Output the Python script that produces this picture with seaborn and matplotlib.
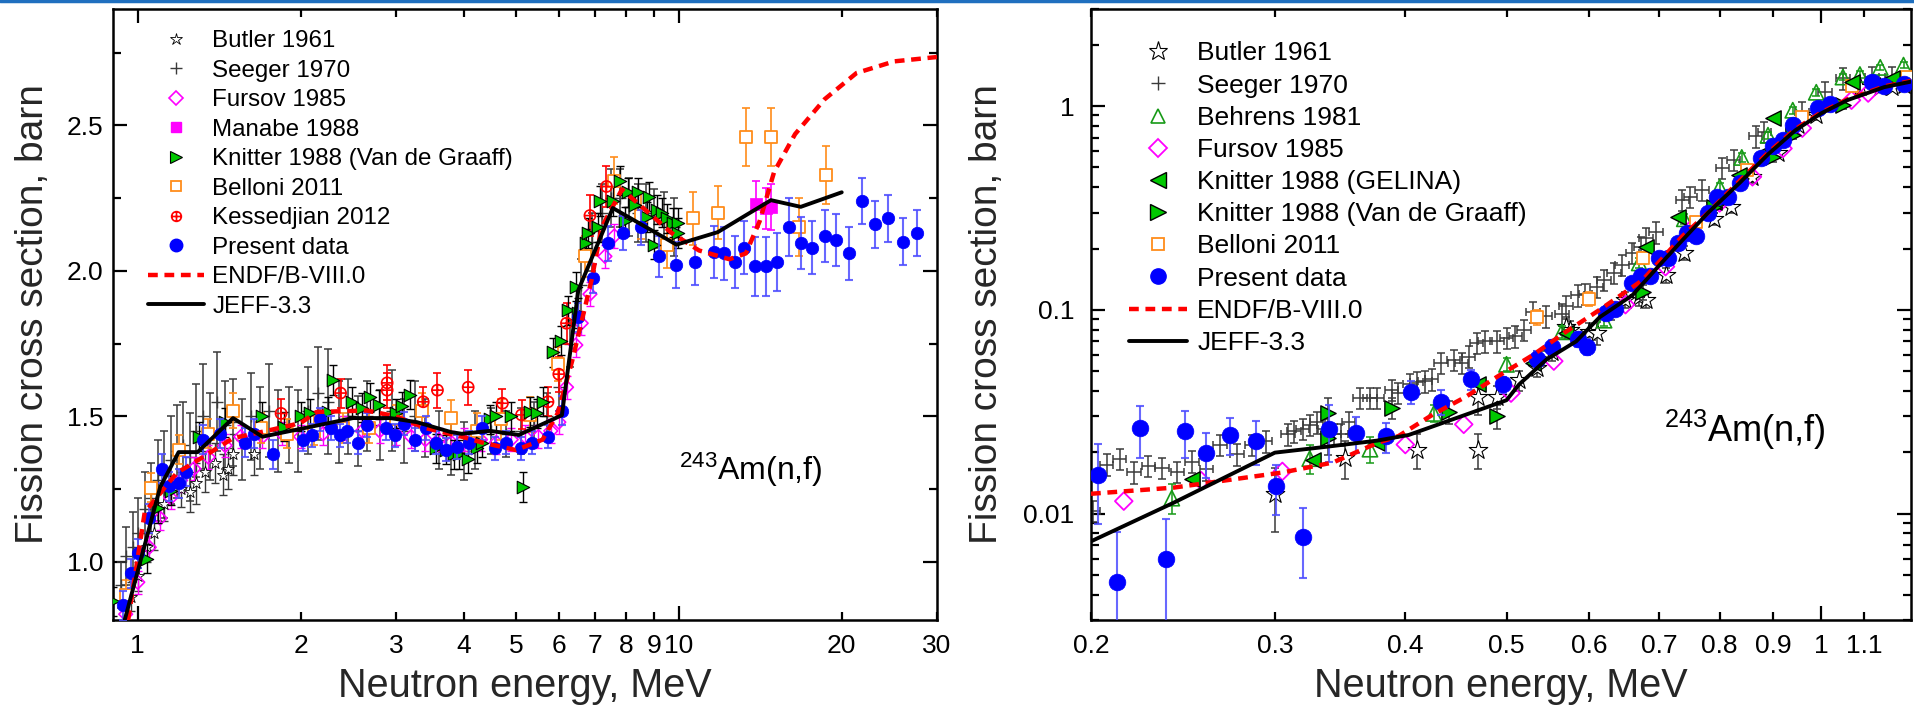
import numpy as np
import pandas as pd
import matplotlib
matplotlib.use("Agg")
import matplotlib.pyplot as plt
import seaborn as sns
from matplotlib.path import Path
from matplotlib.lines import Line2D
from matplotlib.ticker import FixedLocator, FixedFormatter, NullFormatter, LogLocator

# ---------------- LEFT PANEL DATA (0.9 - 30 MeV) ----------------
L_present_E = [0.94, 0.97, 1.00, 1.05, 1.11, 1.14, 1.19, 1.23, 1.32, 1.42, 1.58, 1.64, 1.78, 2.02, 2.10, 2.17,
               2.28, 2.36, 2.44, 2.55, 2.65, 2.87, 2.99, 3.11, 3.25, 3.41, 3.56, 3.72, 3.89, 4.10, 4.33, 4.57,
               4.80, 5.10, 5.36, 5.73, 6.08, 6.50, 6.95, 7.40, 7.90, 8.50, 9.20, 9.90, 10.7, 11.6, 12.1, 12.7,
               13.2, 13.8, 14.5, 15.2, 16.0, 16.8, 17.6, 18.6, 19.5, 20.6, 21.8, 23.0, 24.4, 26.0, 27.6]
L_present_v = [0.85, 0.96, 1.03, 1.15, 1.32, 1.26, 1.27, 1.31, 1.42, 1.44, 1.41, 1.44, 1.37, 1.42, 1.435, 1.49,
               1.46, 1.435, 1.45, 1.41, 1.47, 1.46, 1.435, 1.475, 1.42, 1.46, 1.41, 1.385, 1.395, 1.41, 1.46, 1.39,
               1.41, 1.39, 1.41, 1.43, 1.52, 1.84, 1.975, 2.095, 2.13, 2.15, 2.05, 2.02, 2.03, 2.065, 2.06, 2.03,
               2.08, 2.015, 2.015, 2.03, 2.15, 2.095, 2.08, 2.12, 2.105, 2.06, 2.24, 2.16, 2.18, 2.10, 2.13]
L_present_err = [0.05, 0.05, 0.05, 0.05, 0.05, 0.05, 0.05, 0.05, 0.05, 0.05, 0.05, 0.05, 0.05, 0.04, 0.04, 0.04,
                 0.04, 0.04, 0.04, 0.04, 0.04, 0.04, 0.04, 0.04, 0.04, 0.04, 0.04, 0.04, 0.04, 0.04, 0.04, 0.04,
                 0.04, 0.04, 0.04, 0.04, 0.05, 0.05, 0.05, 0.06, 0.06, 0.06, 0.07, 0.08, 0.08, 0.09, 0.09, 0.09,
                 0.09, 0.1, 0.1, 0.1, 0.1, 0.09, 0.09, 0.09, 0.09, 0.09, 0.08, 0.08, 0.08, 0.08, 0.08]

L_butler_E = [0.97, 1.00, 1.04, 1.07, 1.12, 1.20, 1.25, 1.28, 1.33, 1.39, 1.44, 1.47, 1.50, 1.64]
L_butler_v = [0.88, 0.95, 1.05, 1.10, 1.20, 1.25, 1.24, 1.27, 1.31, 1.34, 1.30, 1.32, 1.37, 1.37]
L_butler_err = [0.05, 0.05, 0.05, 0.06, 0.06, 0.06, 0.07, 0.07, 0.07, 0.07, 0.07, 0.07, 0.07, 0.07]

L_seeger_E = [0.93, 0.95, 0.98, 1.00, 1.03, 1.06, 1.09, 1.12, 1.15, 1.18, 1.21, 1.25, 1.28, 1.32, 1.36, 1.40,
              1.45, 1.50, 1.56, 1.62, 1.68, 1.75, 1.82, 1.90, 1.98, 2.06, 2.15, 2.25, 2.35, 2.45, 2.55, 2.65,
              2.80, 2.95, 3.10, 3.25, 3.40, 3.60, 3.80, 4.00, 4.20, 4.50, 4.80, 5.10, 5.40, 5.70, 6.00, 6.30,
              6.60, 6.90, 7.20, 7.50, 7.80, 8.10, 8.40, 8.70, 9.00, 9.40, 9.80]
L_seeger_v = [0.92, 1.02, 1.05, 1.10, 1.18, 1.22, 1.28, 1.30, 1.35, 1.38, 1.40, 1.36, 1.45, 1.50, 1.43, 1.55,
              1.47, 1.48, 1.42, 1.50, 1.46, 1.52, 1.45, 1.47, 1.45, 1.52, 1.58, 1.55, 1.48, 1.50, 1.45, 1.50,
              1.47, 1.52, 1.45, 1.50, 1.46, 1.42, 1.40, 1.38, 1.42, 1.45, 1.44, 1.45, 1.47, 1.50, 1.60, 1.75,
              1.95, 2.10, 2.20, 2.25, 2.25, 2.22, 2.20, 2.20, 2.18, 2.17, 2.15]
L_seeger_err = [0.08, 0.10, 0.12, 0.12, 0.13, 0.12, 0.14, 0.15, 0.15, 0.16, 0.15, 0.15, 0.16, 0.18, 0.15, 0.17,
                0.15, 0.15, 0.14, 0.15, 0.14, 0.16, 0.14, 0.13, 0.14, 0.15, 0.16, 0.18, 0.14, 0.13, 0.12, 0.12,
                0.12, 0.14, 0.11, 0.12, 0.10, 0.10, 0.10, 0.10, 0.10, 0.08, 0.08, 0.08, 0.08, 0.08, 0.08, 0.08,
                0.09, 0.10, 0.10, 0.10, 0.10, 0.10, 0.10, 0.10, 0.10, 0.10, 0.10]

L_fursov_E = [0.95, 1.00, 1.05, 1.10, 1.15, 1.20, 1.27, 1.35, 1.45, 1.55, 1.70, 1.85, 2.00, 2.20, 2.40, 2.60,
              2.80, 3.00, 3.20, 3.40, 3.60, 3.80, 4.00, 4.30, 4.60, 4.90, 5.20, 5.50, 5.80, 6.00, 6.20, 6.45,
              6.60, 6.85, 7.30, 7.60]
L_fursov_v = [0.82, 0.93, 1.05, 1.15, 1.22, 1.28, 1.32, 1.36, 1.40, 1.43, 1.43, 1.44, 1.43, 1.44, 1.46, 1.45,
              1.45, 1.44, 1.43, 1.42, 1.42, 1.41, 1.42, 1.42, 1.41, 1.42, 1.43, 1.43, 1.45, 1.48, 1.60, 1.745,
              1.82, 1.92, 2.05, 2.12]

L_manabe_E = [13.9, 14.5, 14.8]
L_manabe_v = [2.23, 2.215, 2.22]
L_manabe_err = [0.08, 0.07, 0.08]

L_knitter_E = [0.90, 1.04, 1.09, 1.15, 1.30, 1.45, 1.70, 1.86, 2.00, 2.08, 2.25, 2.30, 2.49, 2.60, 2.69, 2.79,
               3.00, 3.08, 3.18, 3.56, 3.72, 3.84, 3.93, 4.08, 4.23, 4.33, 4.48, 4.60, 4.90, 5.15, 5.30, 5.48,
               5.60, 5.85, 6.05, 6.25, 6.45, 6.50, 6.75, 6.80, 7.10, 7.15, 7.55, 7.80, 7.95, 8.05, 8.30, 8.40,
               8.75, 8.80, 9.00, 9.10, 9.30, 9.50, 9.75, 9.95, 9.95]
L_knitter_v = [0.865, 1.01, 1.185, 1.245, 1.43, 1.48, 1.50, 1.465, 1.50, 1.51, 1.515, 1.625, 1.55, 1.53, 1.565, 1.54,
               1.51, 1.535, 1.575, 1.39, 1.385, 1.37, 1.37, 1.355, 1.39, 1.41, 1.49, 1.50, 1.50, 1.257, 1.515, 1.51,
               1.55, 1.72, 1.76, 1.865, 1.945, 1.855, 2.095, 2.13, 2.15, 2.24, 2.24, 2.31, 2.17, 2.27, 2.225, 2.27,
               2.185, 2.255, 2.09, 2.21, 2.20, 2.18, 2.165, 2.165, 2.13]

L_belloni_E = [0.95, 1.06, 1.19, 1.35, 1.50, 1.69, 1.89, 2.12, 2.40, 2.67, 3.00, 3.35, 3.79, 4.23, 4.70, 5.30,
               5.98, 6.70, 7.60, 8.50, 9.50, 10.6, 11.8, 13.3, 14.8, 16.7, 18.7]
L_belloni_v = [0.886, 1.255, 1.385, 1.44, 1.52, 1.46, 1.44, 1.45, 1.46, 1.46, 1.49, 1.52, 1.495, 1.45, 1.49, 1.505,
               1.68, 2.05, 2.31, 2.19, 2.09, 2.18, 2.20, 2.46, 2.46, 2.15, 2.33]
L_belloni_err = [0.05, 0.05, 0.05, 0.05, 0.06, 0.05, 0.05, 0.05, 0.05, 0.05, 0.05, 0.06, 0.06, 0.06, 0.07, 0.06,
                 0.06, 0.07, 0.08, 0.08, 0.08, 0.09, 0.09, 0.1, 0.1, 0.1, 0.1]

L_kess_E = [1.84, 2.37, 2.89, 2.89, 3.37, 3.58, 4.08, 4.72, 5.12, 5.73, 6.00, 6.20, 6.85, 7.35]
L_kess_v = [1.51, 1.58, 1.615, 1.59, 1.55, 1.59, 1.60, 1.545, 1.505, 1.55, 1.645, 1.82, 2.19, 2.29]
L_kess_err = [0.05, 0.05, 0.06, 0.06, 0.05, 0.06, 0.06, 0.05, 0.05, 0.05, 0.06, 0.07, 0.07, 0.07]

L_endf_E = [0.96, 1.03, 1.18, 1.32, 1.50, 1.73, 2.00, 2.14, 2.65, 3.00, 3.40, 3.97, 4.33, 5.00, 5.60, 5.97,
            6.35, 6.90, 7.20, 7.85, 9.70, 10.9, 12.4, 13.3, 14.1, 15.0, 16.4, 18.6, 21.3, 25.0, 30.0]
L_endf_v = [0.80, 1.17, 1.305, 1.36, 1.425, 1.45, 1.477, 1.515, 1.52, 1.50, 1.46, 1.43, 1.41, 1.384, 1.42, 1.51,
            1.69, 1.97, 2.15, 2.28, 2.13, 2.07, 2.04, 2.06, 2.17, 2.34, 2.47, 2.59, 2.68, 2.72, 2.735]

L_jeff_E = [0.946, 1.10, 1.19, 1.29, 1.50, 1.70, 2.50, 2.93, 3.28, 3.79, 3.97, 4.48, 5.06, 6.08, 6.52, 7.55,
            9.90, 11.8, 14.8, 16.8, 20.0]
L_jeff_v = [0.80, 1.257, 1.377, 1.377, 1.494, 1.43, 1.494, 1.494, 1.48, 1.446, 1.44, 1.45, 1.436, 1.504, 1.934, 2.216,
            2.09, 2.133, 2.243, 2.22, 2.27]

# ---------------- RIGHT PANEL DATA (0.2 - 1.2 MeV) ----------------
R_present_E = [0.203, 0.212, 0.223, 0.236, 0.246, 0.258, 0.272, 0.288, 0.301, 0.319, 0.338, 0.359, 0.383, 0.405,
               0.433, 0.462, 0.496, 0.535, 0.553, 0.586, 0.597, 0.622, 0.635, 0.660, 0.673, 0.686, 0.700, 0.714,
               0.730, 0.745, 0.760, 0.780, 0.795, 0.815, 0.836, 0.877, 0.900, 0.920, 0.940, 0.993, 1.02, 1.12,
               1.15, 1.20]
R_present_v = [0.0154, 0.0046, 0.0262, 0.0060, 0.0253, 0.0199, 0.0244, 0.0228, 0.0136, 0.0077, 0.026, 0.0248,
               0.0239, 0.0396, 0.0354, 0.0455, 0.043, 0.0575, 0.066, 0.072, 0.066, 0.096, 0.101, 0.136, 0.147,
               0.147, 0.18, 0.18, 0.213, 0.238, 0.23, 0.30, 0.36, 0.36, 0.42, 0.556, 0.636, 0.68, 0.81, 0.977,
               1.03, 1.31, 1.25, 1.29]
R_present_err = [0.0065, 0.0035, 0.0075, 0.0034, 0.0065, 0.005, 0.005, 0.0055, 0.0038, 0.0029, 0.008, 0.005,
                 0.004, 0.005, 0.005, 0.005, 0.004, 0.005, 0.005, 0.006, 0.006, 0.007, 0.007, 0.008, 0.008,
                 0.008, 0.01, 0.01, 0.01, 0.012, 0.012, 0.015, 0.015, 0.015, 0.02, 0.02, 0.025, 0.025, 0.03,
                 0.035, 0.04, 0.05, 0.05, 0.05]

R_butler_E = [0.30, 0.35, 0.41, 0.47, 0.47, 0.49, 0.514, 0.535, 0.553, 0.57, 0.575, 0.60, 0.61, 0.65, 0.67,
              0.68, 0.71, 0.74, 0.79, 0.82, 0.86, 0.91, 0.95, 0.99, 1.09, 1.14, 1.17, 1.20]
R_butler_v = [0.0124, 0.0187, 0.0206, 0.0206, 0.0375, 0.0375, 0.045, 0.052, 0.062, 0.082, 0.08, 0.078, 0.077,
              0.112, 0.115, 0.112, 0.148, 0.19, 0.28, 0.32, 0.45, 0.59, 0.81, 0.90, 1.24, 1.24, 1.24, 1.27]
R_butler_err = [0.0043, 0.004, 0.004, 0.004, 0.007, 0.005, 0.005, 0.005, 0.006, 0.008, 0.008, 0.008, 0.01,
                0.01, 0.01, 0.01, 0.012, 0.015, 0.02, 0.02, 0.03, 0.03, 0.04, 0.04, 0.05, 0.05, 0.05, 0.05]

R_seeger_E = [0.201, 0.207, 0.213, 0.220, 0.227, 0.234, 0.242, 0.250, 0.258, 0.266, 0.276, 0.285, 0.294, 0.309,
              0.313, 0.319, 0.324, 0.329, 0.335, 0.342, 0.347, 0.353, 0.362, 0.370, 0.376, 0.388, 0.394, 0.404,
              0.410, 0.418, 0.424, 0.433, 0.445, 0.453, 0.460, 0.468, 0.477, 0.490, 0.500, 0.510, 0.520, 0.530,
              0.545, 0.565, 0.570, 0.585, 0.595, 0.610, 0.620, 0.634, 0.645, 0.660, 0.673, 0.680, 0.695, 0.737,
              0.750, 0.770, 0.805, 0.825, 0.866, 0.883, 0.960, 1.01, 1.05, 1.12, 1.17]
R_seeger_v = [0.0103, 0.0174, 0.0186, 0.0159, 0.0172, 0.0168, 0.016, 0.018, 0.0165, 0.0218, 0.0195, 0.0218,
              0.0226, 0.0245, 0.0253, 0.026, 0.0273, 0.028, 0.026, 0.0245, 0.0245, 0.028, 0.037, 0.037, 0.037,
              0.0405, 0.039, 0.043, 0.044, 0.0445, 0.0455, 0.055, 0.0569, 0.055, 0.059, 0.069, 0.070, 0.070,
              0.073, 0.074, 0.080, 0.098, 0.093, 0.095, 0.105, 0.118, 0.120, 0.130, 0.140, 0.152, 0.166, 0.190,
              0.204, 0.225, 0.24, 0.346, 0.36, 0.387, 0.497, 0.545, 0.71, 0.746, 0.935, 1.17, 1.37, 1.39, 1.39]

R_behrens_E = [0.239, 0.324, 0.370, 0.426, 0.500, 0.565, 0.620, 0.670, 0.740, 0.800, 0.840, 0.890, 0.940, 0.990,
               1.05, 1.09, 1.14, 1.20]
R_behrens_v = [0.0119, 0.0186, 0.0207, 0.031, 0.054, 0.078, 0.089, 0.17, 0.28, 0.40, 0.56, 0.72, 0.955, 1.17,
               1.39, 1.43, 1.55, 1.59]
R_behrens_err = [0.002, 0.003, 0.003, 0.003, 0.004, 0.005, 0.006, 0.01, 0.015, 0.02, 0.03, 0.03, 0.04, 0.05,
                 0.05, 0.05, 0.05, 0.05]

R_fursov_E = [0.215, 0.255, 0.305, 0.400, 0.455, 0.505, 0.555, 0.650, 0.710, 0.750, 0.800, 0.860, 0.920, 0.960,
              1.07, 1.11]
R_fursov_v = [0.0115, 0.0145, 0.0161, 0.0218, 0.0274, 0.039, 0.056, 0.106, 0.163, 0.247, 0.335, 0.45, 0.62, 0.78,
              1.07, 1.16]

R_gelina_E = [0.250, 0.326, 0.376, 0.470, 0.530, 0.570, 0.680, 0.730, 0.790, 0.835, 0.880, 0.900, 1.07, 1.17]
R_gelina_v = [0.0148, 0.0184, 0.0223, 0.043, 0.055, 0.077, 0.204, 0.285, 0.34, 0.46, 0.59, 0.87, 1.31, 1.37]

R_vdg_E = [0.337, 0.337, 0.388, 0.440, 0.490, 0.540, 0.630, 0.675, 0.790, 0.900, 0.940, 1.05]
R_vdg_v = [0.031, 0.0234, 0.033, 0.0316, 0.030, 0.058, 0.097, 0.122, 0.32, 0.56, 0.72, 1.01]
R_vdg_err = [0.006, 0.004, 0.004, 0.004, 0.004, 0.005, 0.008, 0.01, 0.02, 0.03, 0.03, 0.04]

R_belloni_E = [0.535, 0.600, 0.675, 0.760, 0.850, 0.960, 1.07, 1.21]
R_belloni_v = [0.092, 0.113, 0.18, 0.27, 0.486, 0.88, 1.25, 1.39]
R_belloni_err = [0.008, 0.009, 0.012, 0.015, 0.02, 0.04, 0.05, 0.05]

R_endf_E = [0.200, 0.240, 0.305, 0.341, 0.376, 0.394, 0.425, 0.457, 0.490, 0.530, 0.570, 0.614, 0.675, 0.737,
            0.780, 0.836, 0.890, 0.945, 1.00, 1.06, 1.15, 1.22]
R_endf_v = [0.0125, 0.0134, 0.0159, 0.0178, 0.0222, 0.024, 0.0306, 0.0374, 0.047, 0.060, 0.078, 0.10, 0.14,
            0.23, 0.30, 0.43, 0.59, 0.77, 0.93, 1.08, 1.25, 1.33]

R_jeff_E = [0.200, 0.240, 0.300, 0.337, 0.376, 0.403, 0.500, 0.514, 0.546, 0.583, 0.614, 0.660, 0.700, 0.737,
            0.780, 0.836, 0.890, 0.945, 1.00, 1.06, 1.15, 1.22]
R_jeff_v = [0.0073, 0.0113, 0.0199, 0.0213, 0.0228, 0.0243, 0.036, 0.043, 0.057, 0.070, 0.092, 0.118, 0.165,
            0.22, 0.30, 0.42, 0.58, 0.76, 0.92, 1.07, 1.24, 1.32]

# ---------------- STYLE ----------------
sns.set_theme(style="ticks")
plt.rcParams['font.family'] = ['Liberation Sans', 'DejaVu Sans']
plt.rcParams['mathtext.fontset'] = 'custom'
plt.rcParams['mathtext.rm'] = 'Liberation Sans'
plt.rcParams['mathtext.it'] = 'Liberation Sans:italic'
plt.rcParams['axes.linewidth'] = 1.8
plt.rcParams['axes.edgecolor'] = 'black'
plt.rcParams['text.color'] = 'black'

BLUE = '#0000ff'
BLUE_E = '#4d4dff'
GREEN = '#00c800'
DGREEN = '#179a17'
MAG = '#ff00ff'
ORANGE = '#ff8c1a'
RED = '#ff0000'
GRAY = '#3a3a3a'

circ = Path.unit_circle()
cross = Path([(-1, 0), (1, 0), (0, -1), (0, 1)], [Path.MOVETO, Path.LINETO, Path.MOVETO, Path.LINETO])
OPLUS = Path.make_compound_path(circ, cross)

fig = plt.figure(figsize=(19.15, 7.12), dpi=100)
axL = fig.add_axes([113 / 1915, 1 - 620 / 712, 824 / 1915, 611 / 712])
axR = fig.add_axes([1091 / 1915, 1 - 620 / 712, 820 / 1915, 611 / 712])
fig.add_artist(Line2D([0, 1], [0.9985, 0.9985], transform=fig.transFigure, color='#1f6fbf', lw=2.5))


def errs(ax, E, v, err, color, xerr=None, lw=1.2, cap=3, z=2, alpha=1.0):
    ax.errorbar(E, v, yerr=err, xerr=xerr, fmt='none', ecolor=color, elinewidth=lw, capsize=cap,
                capthick=lw, zorder=z, alpha=alpha)


def pts(ax, E, v, marker, fc, ec, size, lw=1.0, z=3):
    sns.scatterplot(x=E, y=v, ax=ax, marker=marker, s=size ** 2, facecolor=fc, edgecolor=ec,
                    linewidth=lw, zorder=z, legend=False)


# ---------------- LEFT PANEL ----------------
ax = axL
ax.set_xscale('log')
errs(ax, L_seeger_E, L_seeger_v, L_seeger_err, GRAY, lw=1.1, cap=3, z=2)
ax.plot(L_seeger_E, L_seeger_v, ls='none', marker='+', ms=9, mew=1.0, color=GRAY, zorder=2)
errs(ax, L_butler_E, L_butler_v, L_butler_err, GRAY, lw=1.0, z=2)
pts(ax, L_butler_E, L_butler_v, '*', 'white', 'black', 9, lw=0.6, z=2.5)
errs(ax, L_fursov_E, L_fursov_v, [0.04] * len(L_fursov_E), MAG, lw=1.0, z=2)
pts(ax, L_fursov_E, L_fursov_v, 'D', 'none', MAG, 7, lw=1.2, z=3)
errs(ax, L_belloni_E, L_belloni_v, L_belloni_err, ORANGE, lw=1.2, z=3)
pts(ax, L_belloni_E, L_belloni_v, 's', 'white', ORANGE, 8, lw=1.3, z=3.5)
errs(ax, L_kess_E, L_kess_v, L_kess_err, RED, lw=1.2, z=3)
pts(ax, L_kess_E, L_kess_v, OPLUS, 'none', RED, 8, lw=1.2, z=3.5)
errs(ax, L_knitter_E, L_knitter_v, [0.05] * len(L_knitter_E), 'black', lw=1.0, z=3)
pts(ax, L_knitter_E, L_knitter_v, '>', GREEN, 'black', 9, lw=0.8, z=3.6)
errs(ax, L_present_E, L_present_v, L_present_err, BLUE_E, lw=1.5, z=3.7, alpha=0.85)
pts(ax, L_present_E, L_present_v, 'o', BLUE, BLUE, 9, lw=0.5, z=3.8)
errs(ax, L_manabe_E, L_manabe_v, L_manabe_err, MAG, lw=1.2, z=3.8)
pts(ax, L_manabe_E, L_manabe_v, 's', MAG, MAG, 8, lw=0.5, z=3.9)
sns.lineplot(x=L_endf_E, y=L_endf_v, ax=ax, color=RED, lw=3.2, linestyle=(0, (2.2, 1.5)), sort=False,
             estimator=None, zorder=5)
sns.lineplot(x=L_jeff_E, y=L_jeff_v, ax=ax, color='black', lw=2.8, sort=False, estimator=None, zorder=6)

ax.set_xlim(0.9, 30)
ax.set_ylim(0.8, 2.9)
ax.xaxis.set_major_locator(FixedLocator([1, 10]))
ax.xaxis.set_major_formatter(FixedFormatter(['1', '10']))
ax.xaxis.set_minor_locator(FixedLocator([2, 3, 4, 5, 6, 7, 8, 9, 20, 30]))
ax.xaxis.set_minor_formatter(FixedFormatter(['2', '3', '4', '5', '6', '7', '8', '9', '20', '30']))
ax.yaxis.set_major_locator(FixedLocator([1.0, 1.5, 2.0, 2.5]))
ax.yaxis.set_major_formatter(FixedFormatter(['1.0', '1.5', '2.0', '2.5']))
ax.yaxis.set_minor_locator(FixedLocator([0.75, 1.25, 1.75, 2.25, 2.75]))
ax.yaxis.set_minor_formatter(NullFormatter())
ax.tick_params(which='both', direction='in', top=True, right=True, labelsize=19, width=1.6, colors='black')
ax.tick_params(axis='x', which='both', pad=10)
ax.tick_params(axis='y', which='both', pad=7)
ax.tick_params(which='major', length=10)
ax.tick_params(which='minor', length=6)
ax.set_xlabel('Neutron energy, MeV', fontsize=28.5)
ax.set_ylabel('Fission cross section, barn', fontsize=28)
ax.xaxis.set_label_coords(0.5, -0.077)
ax.yaxis.set_label_coords(-0.075, 0.5)
ax.text(10.0, 1.28, r'$^{243}$Am(n,f)', fontsize=23, ha='left', va='baseline')

hL = [
    Line2D([], [], ls='none', marker='*', mfc='white', mec='black', ms=9, mew=0.6, label='Butler 1961'),
    Line2D([], [], ls='none', marker='+', color=GRAY, ms=9, mew=1.0, label='Seeger 1970'),
    Line2D([], [], ls='none', marker='D', mfc='none', mec=MAG, ms=7, mew=1.2, label='Fursov 1985'),
    Line2D([], [], ls='none', marker='s', mfc=MAG, mec=MAG, ms=7, label='Manabe 1988'),
    Line2D([], [], ls='none', marker='>', mfc=GREEN, mec='black', ms=9, mew=0.8, label='Knitter 1988 (Van de Graaff)'),
    Line2D([], [], ls='none', marker='s', mfc='white', mec=ORANGE, ms=7, mew=1.3, label='Belloni 2011'),
    Line2D([], [], ls='none', marker=OPLUS, mfc='none', mec=RED, ms=7, mew=1.2, label='Kessedjian 2012'),
    Line2D([], [], ls='none', marker='o', mfc=BLUE, mec=BLUE, ms=9, label='Present data'),
    Line2D([], [], color=RED, lw=3.2, ls=(0, (2.2, 1.5)), label='ENDF/B-VIII.0'),
    Line2D([], [], color='black', lw=2.8, label='JEFF-3.3'),
]
ax.legend(handles=hL, loc='upper left', bbox_to_anchor=(0.043, 0.965), frameon=False, fontsize=17.4,
          borderpad=0, borderaxespad=0, handlelength=2.3, handletextpad=0.35, labelspacing=0.31)

# ---------------- RIGHT PANEL ----------------
ax = axR
ax.set_xscale('log')
ax.set_yscale('log')
sxerr = [e * 0.015 for e in R_seeger_E]
syerr = [v * 0.12 for v in R_seeger_v]
errs(ax, R_seeger_E, R_seeger_v, syerr, GRAY, xerr=sxerr, lw=1.1, cap=3, z=2)
errs(ax, R_butler_E, R_butler_v, R_butler_err, GRAY, lw=1.1, z=2)
pts(ax, R_butler_E, R_butler_v, '*', 'white', 'black', 14, lw=0.8, z=2.5)
errs(ax, R_behrens_E, R_behrens_v, R_behrens_err, DGREEN, lw=1.1, z=2.6)
pts(ax, R_behrens_E, R_behrens_v, '^', 'none', DGREEN, 11, lw=1.2, z=2.7)
pts(ax, R_fursov_E, R_fursov_v, 'D', 'none', MAG, 9, lw=1.3, z=3)
errs(ax, R_belloni_E, R_belloni_v, R_belloni_err, ORANGE, lw=1.2, z=3)
pts(ax, R_belloni_E, R_belloni_v, 's', 'white', ORANGE, 9, lw=1.3, z=3.1)
pts(ax, R_gelina_E, R_gelina_v, '<', GREEN, 'black', 11, lw=1.0, z=3.3)
errs(ax, R_vdg_E, R_vdg_v, R_vdg_err, GRAY, lw=1.1, z=3.2)
pts(ax, R_vdg_E, R_vdg_v, '>', GREEN, 'black', 11, lw=1.0, z=3.4)
errs(ax, R_present_E, R_present_v, R_present_err, BLUE_E, lw=1.5, z=3.5, alpha=0.85)
pts(ax, R_present_E, R_present_v, 'o', BLUE, BLUE, 12, lw=0.5, z=3.6)
sns.lineplot(x=R_endf_E, y=R_endf_v, ax=ax, color=RED, lw=3.2, linestyle=(0, (2.2, 1.5)), sort=False,
             estimator=None, zorder=5)
sns.lineplot(x=R_jeff_E, y=R_jeff_v, ax=ax, color='black', lw=2.8, sort=False, estimator=None, zorder=6)

ax.set_xlim(0.2, 1.22)
ax.set_ylim(0.003, 3)
ax.xaxis.set_major_locator(FixedLocator([1.0]))
ax.xaxis.set_major_formatter(FixedFormatter(['1']))
ax.xaxis.set_minor_locator(FixedLocator([0.2, 0.3, 0.4, 0.5, 0.6, 0.7, 0.8, 0.9, 1.1]))
ax.xaxis.set_minor_formatter(FixedFormatter(['0.2', '0.3', '0.4', '0.5', '0.6', '0.7', '0.8', '0.9', '1.1']))
ax.yaxis.set_major_locator(FixedLocator([0.01, 0.1, 1.0]))
ax.yaxis.set_major_formatter(FixedFormatter(['0.01', '0.1', '1']))
ax.yaxis.set_minor_locator(LogLocator(base=10, subs=np.arange(2, 10)))
ax.yaxis.set_minor_formatter(NullFormatter())
ax.tick_params(which='both', direction='in', top=True, right=True, labelsize=19, width=1.6, colors='black')
ax.tick_params(axis='x', which='both', pad=10)
ax.tick_params(axis='y', which='both', pad=12)
ax.tick_params(which='major', length=10)
ax.tick_params(which='minor', length=6)
ax.set_xlabel('Neutron energy, MeV', fontsize=28.5)
ax.set_ylabel('Fission cross section, barn', fontsize=28)
ax.xaxis.set_label_coords(0.5, -0.077)
ax.yaxis.set_label_coords(-0.105, 0.5)
ax.text(0.708, 0.0225, r'$^{243}$Am(n,f)', fontsize=26, ha='left', va='baseline')

hR = [
    Line2D([], [], ls='none', marker='*', mfc='white', mec='black', ms=14, mew=0.8, label='Butler 1961'),
    Line2D([], [], ls='none', marker='+', color=GRAY, ms=10, mew=1.0, label='Seeger 1970'),
    Line2D([], [], ls='none', marker='^', mfc='none', mec=DGREEN, ms=10, mew=1.2, label='Behrens 1981'),
    Line2D([], [], ls='none', marker='D', mfc='none', mec=MAG, ms=9, mew=1.3, label='Fursov 1985'),
    Line2D([], [], ls='none', marker='<', mfc=GREEN, mec='black', ms=11, mew=1.0, label='Knitter 1988 (GELINA)'),
    Line2D([], [], ls='none', marker='>', mfc=GREEN, mec='black', ms=11, mew=1.0, label='Knitter 1988 (Van de Graaff)'),
    Line2D([], [], ls='none', marker='s', mfc='white', mec=ORANGE, ms=8, mew=1.3, label='Belloni 2011'),
    Line2D([], [], ls='none', marker='o', mfc=BLUE, mec=BLUE, ms=11, label='Present data'),
    Line2D([], [], color=RED, lw=3.2, ls=(0, (2.2, 1.5)), label='ENDF/B-VIII.0'),
    Line2D([], [], color='black', lw=2.8, label='JEFF-3.3'),
]
ax.legend(handles=hR, loc='upper left', bbox_to_anchor=(0.046, 0.947), frameon=False, fontsize=19,
          borderpad=0, borderaxespad=0, handlelength=2.2, handletextpad=0.4, labelspacing=0.31)

fig.savefig('out.png', dpi=100)
